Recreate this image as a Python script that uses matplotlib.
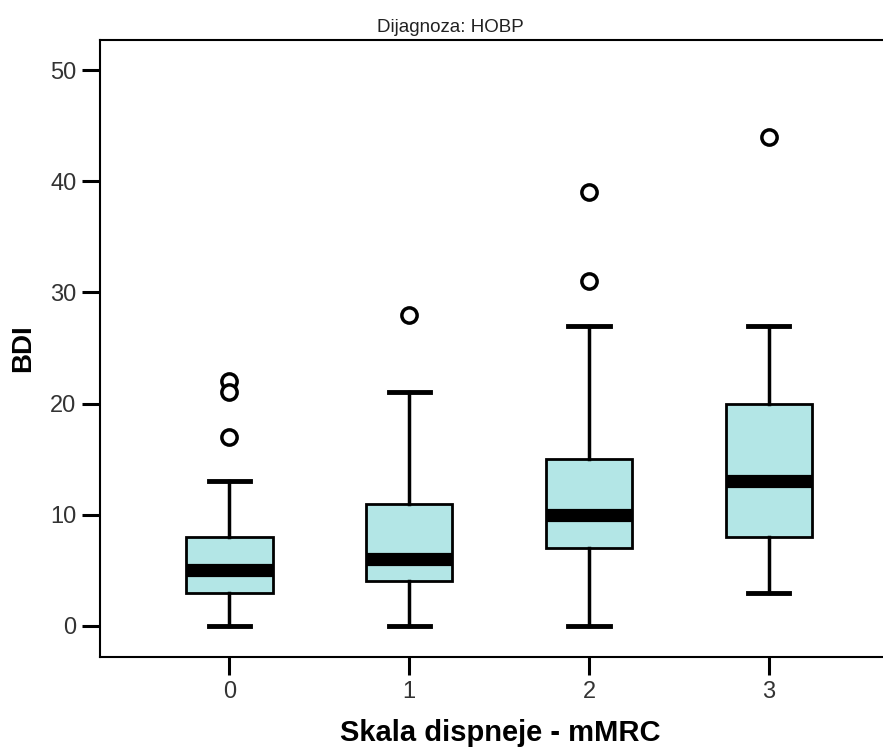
import matplotlib
matplotlib.use("Agg")
import matplotlib.pyplot as plt

# DATA
categories = ["0", "1", "2", "3"]
q1 = [3, 4, 7, 8]
medians = [5, 6, 10, 13]
q3 = [8, 11, 15, 20]
whisker_low = [0, 0, 0, 3]
whisker_high = [13, 21, 27, 27]
outliers = [[22, 21, 17], [28], [31, 39], [44]]

y_ticks = [0, 10, 20, 30, 40, 50]

FILL = "#b3e6e6"
NARROW = ["Liberation Sans Narrow", "Liberation Sans", "DejaVu Sans"]
BOLD = ["Liberation Sans", "DejaVu Sans"]

stats = []
for i, name in enumerate(categories):
    stats.append({
        "label": name,
        "q1": q1[i],
        "med": medians[i],
        "q3": q3[i],
        "whislo": whisker_low[i],
        "whishi": whisker_high[i],
        "fliers": outliers[i],
    })

fig = plt.figure(figsize=(8.83, 7.53), dpi=100)
ax = fig.add_axes([100 / 883, 96 / 753, 800 / 883, 617 / 753])

ax.bxp(
    stats,
    positions=range(len(categories)),
    widths=0.48,
    patch_artist=True,
    boxprops=dict(facecolor=FILL, edgecolor="black", linewidth=2),
    medianprops=dict(color="black", linewidth=9.5, solid_capstyle="butt"),
    whiskerprops=dict(color="black", linewidth=2.5),
    capprops=dict(color="black", linewidth=3.5),
    capwidths=0.23,
    flierprops=dict(marker="o", markersize=11, markerfacecolor="white",
                    markeredgecolor="black", markeredgewidth=2.5),
)

ax.set_xlim(-0.72, 3.73)
ax.set_ylim(-2.8, 52.7)
ax.set_yticks(y_ticks)
ax.set_xticks(range(len(categories)))
ax.set_xticklabels(categories)

for spine in ax.spines.values():
    spine.set_linewidth(1.5)
ax.spines["right"].set_visible(False)

ax.tick_params(axis="both", direction="out", length=13, width=2.2,
               labelsize=17, labelcolor="#333333", pad=4)
for lab in ax.get_xticklabels() + ax.get_yticklabels():
    lab.set_family(NARROW)

ax.set_xlabel("Skala dispneje - mMRC", fontsize=21, fontweight="bold",
              family=BOLD, labelpad=12)
ax.set_ylabel("BDI", fontsize=20, fontweight="bold", family=BOLD, labelpad=10)

fig.text(450 / 883, 1 - 27 / 753, "Dijagnoza: HOBP", ha="center", va="center",
         fontsize=13.5, family=NARROW, color="#222222")

fig.savefig("out.png", dpi=100)
